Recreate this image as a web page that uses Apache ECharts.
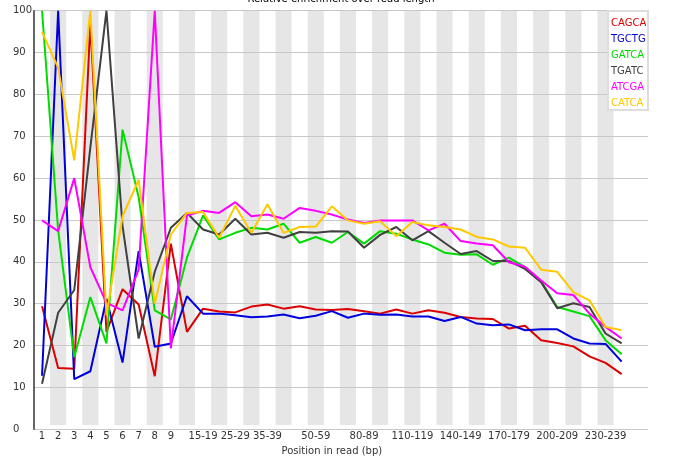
<!DOCTYPE html>
<html>
<head>
<meta charset="utf-8">
<script src="https://cdn.jsdelivr.net/npm/echarts/dist/echarts.min.js"></script>
<style>html,body{margin:0;padding:0;background:#fff;}#chart{width:674px;height:461px;}</style>
</head>
<body>
<div id="chart"></div>
<script>
var categories = ['1','2','3','4','5','6','7','8','9','10-14','15-19','20-24','25-29','30-34','35-39','40-44','45-49',
  '50-59','60-69','70-79','80-89','90-99','100-109','110-119','120-129','130-139','140-149','150-159','160-169',
  '170-179','180-189','190-199','200-209','210-219','220-229','230-239','240-249'];
var shownLabels = [0,1,2,3,4,5,6,7,8,10,12,14,17,20,23,26,29,32,35];
var yTicks = [0,10,20,30,40,50,60,70,80,90,100];

var CAGCA = [28.7,13.8,13.6,97,22.5,32.8,29.1,11.8,43.8,22.5,28.1,27.4,27.2,28.6,29.1,28.1,28.7,27.9,27.8,28.0,27.5,26.9,27.9,26.9,27.7,27.1,26.1,25.7,25.6,23.3,24.0,20.5,19.8,19.0,16.6,15.0,12.3];
var TGCTG = [11.9,100,11.1,13.0,30.5,15.1,42.0,18.9,19.7,31.1,26.9,26.9,26.5,26.0,26.2,26.7,25.8,26.4,27.5,25.9,26.9,26.6,26.7,26.2,26.2,25.1,26.1,24.5,24.1,24.3,22.9,23.1,23.1,20.9,19.7,19.6,15.3];
var GATCA = [100,47,16.4,30.9,19.7,71.3,55,27.7,25.5,40.4,50.6,44.8,46.4,47.6,47.2,48.6,44.0,45.4,44.0,46.6,43.8,46.8,46.2,44.8,43.6,41.6,41.1,41.2,38.7,40.4,38.1,34.7,28.5,27.4,26.3,20.5,17.1];
var TGATC = [10,27.1,32.6,67,100,48,20.9,37,47.6,51.2,47.2,46.0,49.8,46.0,46.4,45.2,46.6,46.4,46.8,46.7,42.8,45.9,47.8,44.6,46.8,44.0,41.3,42.0,39.6,39.6,37.7,34.5,28.2,29.4,28.5,22.1,19.7];
var ATCGA = [49.4,46.8,59.6,38.1,29.5,27.7,37.5,100,18.5,50.6,51.7,51.2,53.8,50.4,50.8,49.8,52.4,51.7,50.8,49.6,48.8,49.4,49.4,49.4,47.0,48.6,44.4,43.8,43.4,39.3,38.2,34.9,31.8,31.4,26.9,23.7,20.9];
var CATCA = [94.9,86.2,63.9,100,26.5,50.4,59.2,29.3,46.0,51.2,51.4,45.2,52.9,46.4,53.3,46.4,47.8,47.9,52.8,49.4,48.6,49.2,45.6,49.0,48.2,47.8,47.2,45.4,44.8,43.1,42.8,37.5,37.0,32.1,30.1,23.7,22.9];

var seriesNames = ['CAGCA','TGCTG','GATCA','TGATC','ATCGA','CATCA'];
var seriesData = [CAGCA, TGCTG, GATCA, TGATC, ATCGA, CATCA];
var colors = ['#dc0000','#0000dc','#00dc00','#404040','#ff00ff','#ffc800'];

var FONT = 'DejaVu Sans';
var plotLeft = 34, plotTop = 10.7, plotH = 418.6, fullW = 614, catW = 16.1;

var chart = echarts.init(document.getElementById('chart'), null, {renderer:'canvas'});
var option = {
  animation: false,
  backgroundColor: '#fff',
  graphic: [
    {type:'text', x: 341, y: -6, z: 30,
     style:{text:'Relative enrichment over read length', fill:'#000', font:'10px "DejaVu Sans"', align:'center', verticalAlign:'top'}},
    {type:'rect', z: 10, shape:{x:608, y:11, width:40, height:99},
     style:{fill:'#fff', stroke:'#dddddd', lineWidth:2}}
  ],
  legend: {
    orient:'vertical', left:606, top:15, padding:0, itemGap:0, itemWidth:0, itemHeight:16,
    icon:'rect', itemStyle:{opacity:0}, z: 20, selectedMode:false,
    textStyle:{fontFamily:FONT, fontSize:10},
    data: seriesNames.map(function(n,i){ return {name:n, textStyle:{color:colors[i]}}; })
  },
  grid: [
    {left:plotLeft, top:plotTop, width:fullW, height:plotH},
    {left:plotLeft, top:plotTop, width:catW*categories.length, height:plotH}
  ],
  xAxis: [
    {type:'value', gridIndex:0, show:false, min:0, max:1},
    {type:'category', gridIndex:1, data:categories, boundaryGap:true, z:0,
     axisLine:{show:false}, axisTick:{show:false},
     axisLabel:{interval:function(idx){ return shownLabels.indexOf(idx) >= 0; },
       fontFamily:FONT, fontSize:10, color:'#333', margin:6},
     splitLine:{show:false},
     splitArea:{show:true, interval:0, areaStyle:{color:['rgba(255,255,255,0)','#e6e6e6']}},
     name:'Position in read (bp)', nameLocation:'middle', nameGap:18,
     nameTextStyle:{fontFamily:FONT, fontSize:10, color:'#333'}}
  ],
  yAxis: [
    {type:'value', gridIndex:0, min:0, max:100, interval:10, z:1,
     axisLine:{show:true, lineStyle:{color:'#333', width:1.5}},
     axisTick:{show:false},
     axisLabel:{fontFamily:FONT, fontSize:10, color:'#333', align:'left', margin:21,
       formatter:function(v){ return yTicks.indexOf(v) >= 0 ? String(v) : ''; }},
     splitLine:{show:true, lineStyle:{color:'#c8c8c8', width:1}}},
    {type:'value', gridIndex:1, min:0, max:100, show:false, splitLine:{show:false}}
  ],
  series: seriesNames.map(function(n,i){
    return {name:n, type:'line', xAxisIndex:1, yAxisIndex:1, data:seriesData[i],
      symbol:'none', z:3, lineStyle:{color:colors[i], width:2}, itemStyle:{color:colors[i]}};
  })
};
chart.setOption(option);
</script>
</body>
</html>
